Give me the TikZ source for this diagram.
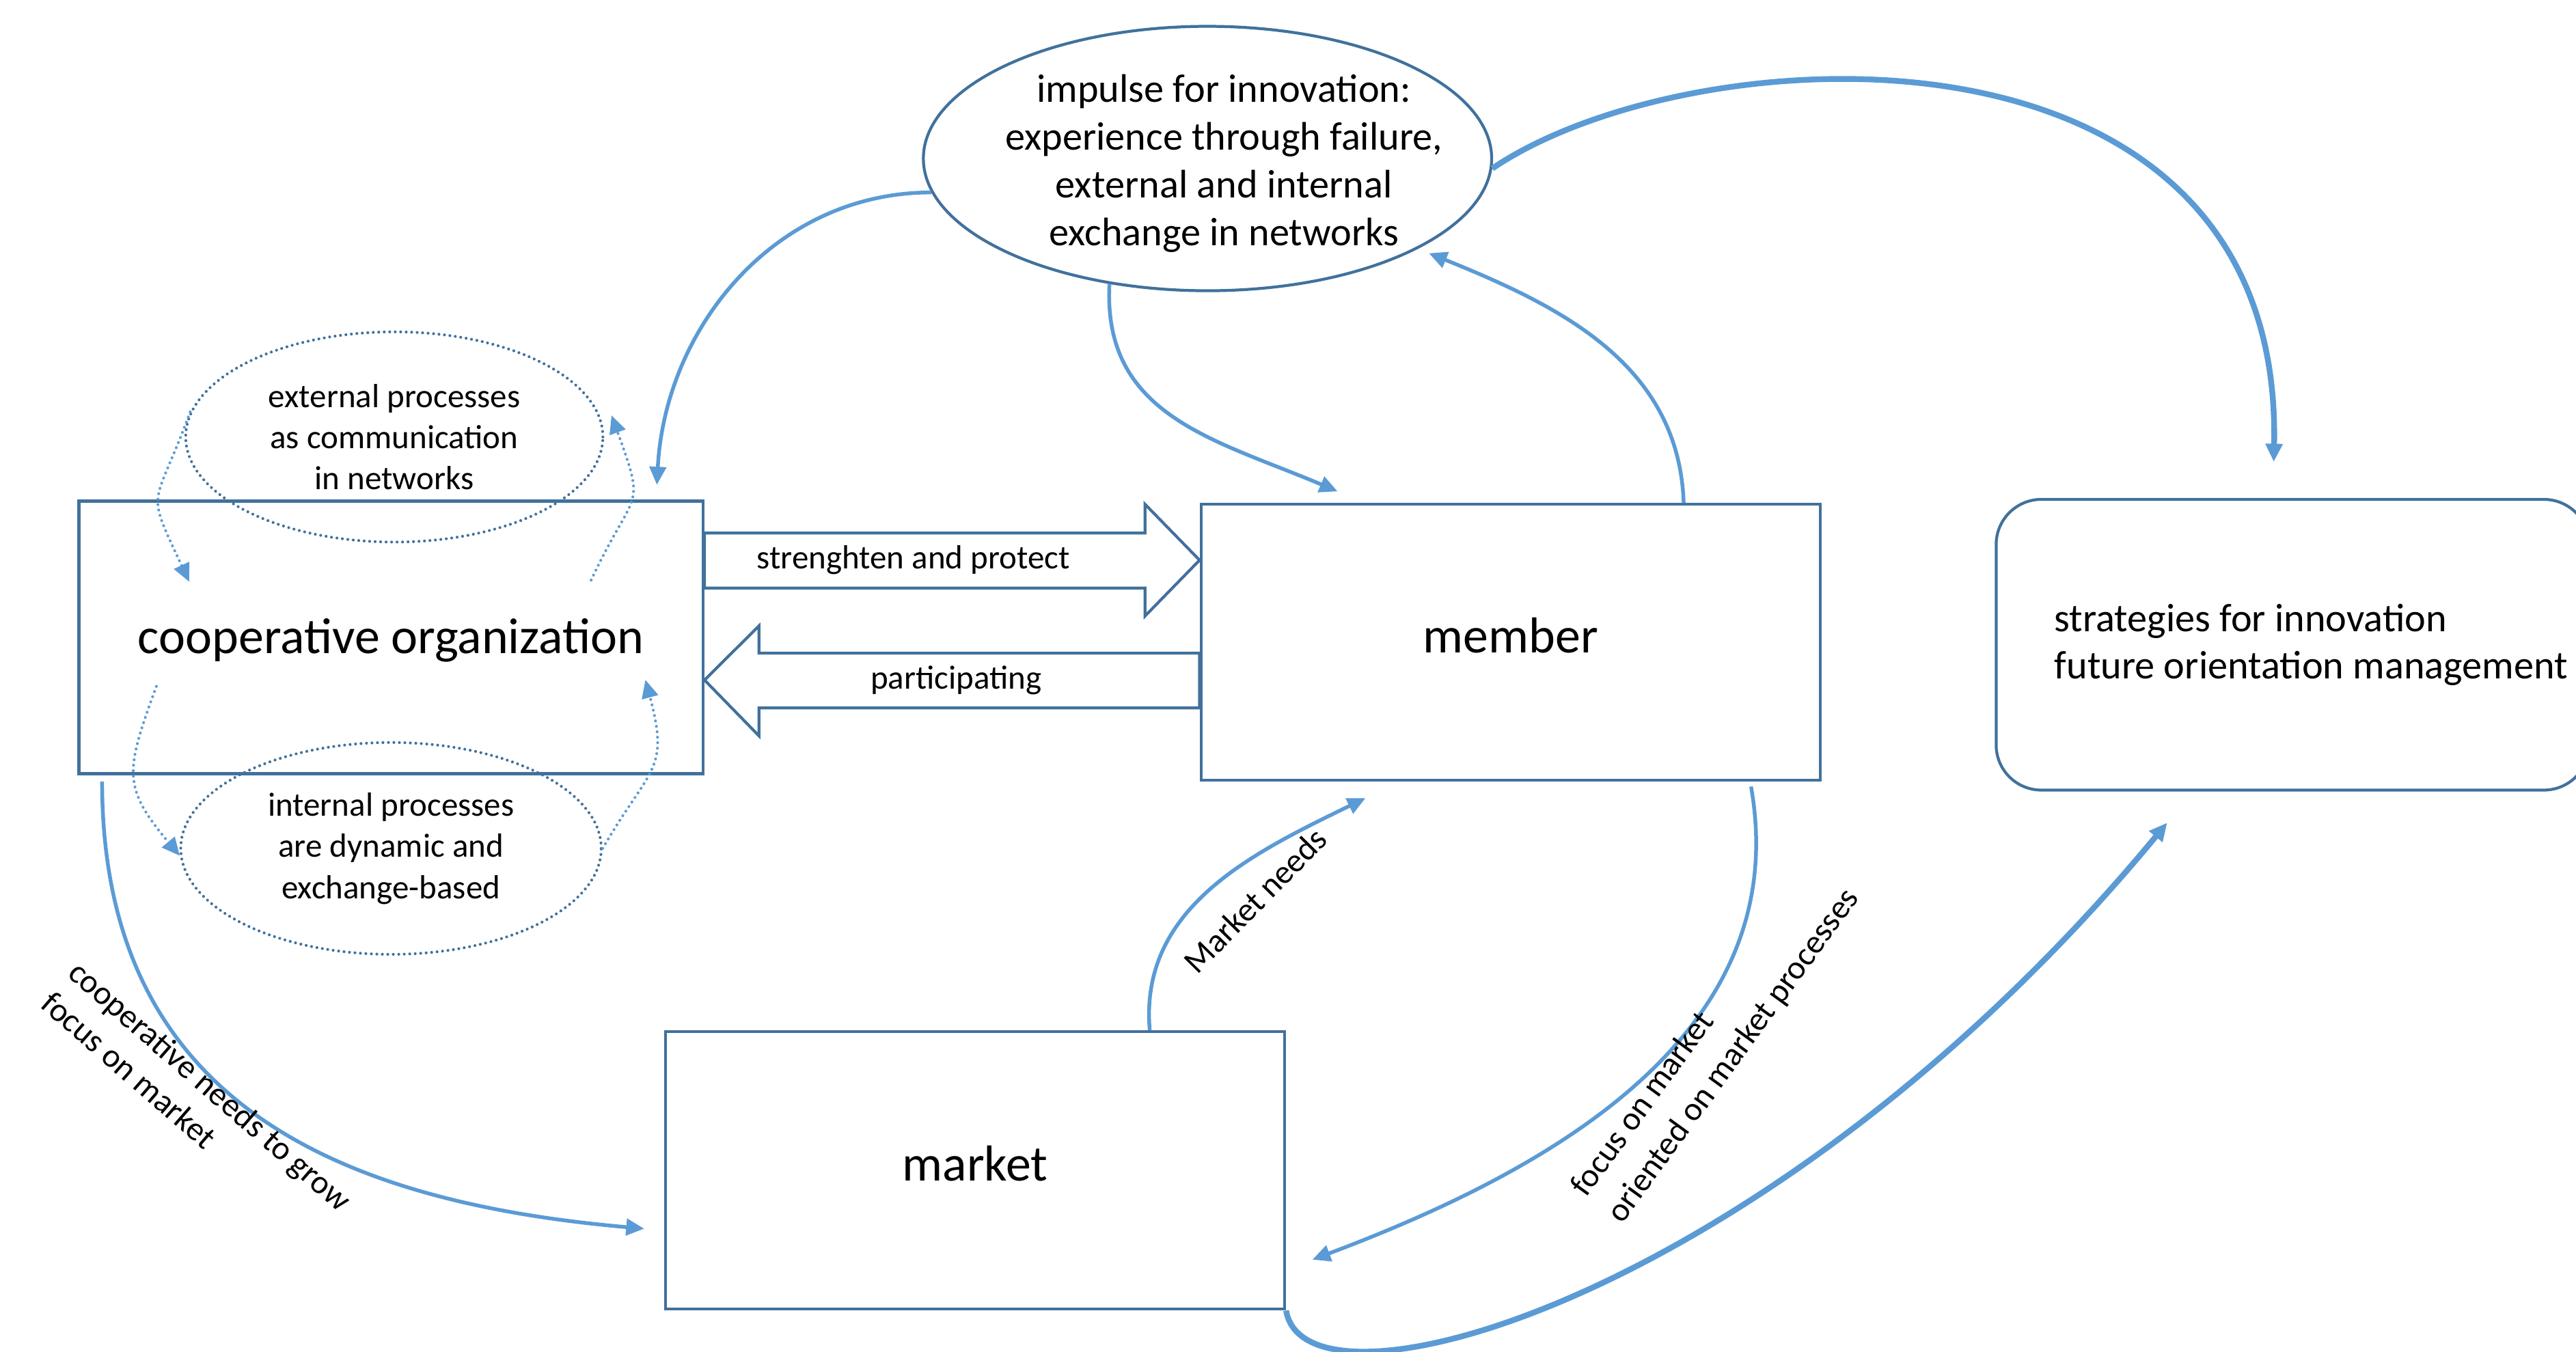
\documentclass[tikz,border=0pt]{standalone}
\usepackage{fontspec}
\setmainfont{Carlito}
\usepackage{xcolor}
\usetikzlibrary{calc,arrows.meta,shapes.geometric}

\definecolor{boxblue}{RGB}{65,113,156}
\definecolor{flowblue}{RGB}{91,155,213}

\begin{document}
\begin{tikzpicture}
    [%%%%%%%%%%%%%%%%%%%%%%%%%%%%%%
        x=0.02cm, y=-0.02cm,
        box/.style={draw=boxblue, line width=1pt, inner sep=0pt},
        oval/.style={ellipse, draw=boxblue, line width=1pt, inner sep=0pt},
        dotoval/.style={oval, line width=1pt, line cap=round, dash pattern=on 0pt off 1.9pt},
        bigfont/.style={font=\fontsize{17.5}{21}\selectfont},
        midfont/.style={font=\fontsize{13.8}{16.5}\selectfont},
        smallfont/.style={font=\fontsize{11.6}{14.3}\selectfont},
        flow/.style={draw=flowblue, line width=1.3pt, -{Triangle[length=0.22cm,width=0.2cm]}},
        bigflow/.style={flow, line width=2pt},
        dotflow/.style={flow, line width=1pt, line cap=round, dash pattern=on 0pt off 1.9pt},
    ]%%%%%%%%%%%%%%%%%%%%%%%%%%%%%%

\useasboundingbox (0,0) rectangle (1568,823);
\clip (0,0) rectangle (1568,823);

%\draw[help lines] (0,0) grid (1568,823);

\foreach \nm/\x/\y/\w/\h/\d/\txt in {coop/238/388/7.6/3.32/0.06/cooperative organization,
	member/919.5/391/7.54/3.36/0.2/member, market/593.5/712.5/7.54/3.38/0.2/market}{
	\node[box, bigfont, text height=0.45cm, text depth=\d cm,
		minimum width=\w cm, minimum height=\h cm] (\nm) at (\x,\y) {\txt};
}

\node[box, rounded corners=0.55cm, minimum width=7.22cm, minimum height=3.54cm] (strat) at (1395.5,392.5) {};
\node[midfont, anchor=west, align=left, inner sep=0pt] (strattext) at ([shift={(36,0)}]strat.west)
	{strategies for innovation\\future orientation management};

\node[oval, minimum width=6.92cm, minimum height=3.22cm] (impulse) at (735,96.5) {};
\node[midfont, align=center] (impulsetext) at ([shift={(10,3)}]impulse)
	{impulse for innovation:\\experience through failure,\\external and internal\\exchange in networks};

\node[dotoval, smallfont, align=center, minimum width=5.08cm, minimum height=2.56cm] (extproc) at (240,266)
	{external processes\\as communication\\in networks};
\node[dotoval, smallfont, align=center, minimum width=5.12cm, minimum height=2.58cm] (intproc) at (238,516.5)
	{internal processes\\are dynamic and\\exchange-based};

% block arrows between cooperative and member
\draw[box] (coop.east |- 0,324.5) -- (697,324.5) -- (697,307) -- (member.west |- 0,341)
	-- (697,375) -- (697,358) -- (coop.east |- 0,358) -- cycle;
\draw[box] (member.west |- 0,397.6) -- (462,397.6) -- (462,381) -- (coop.east |- 0,414)
	-- (462,448) -- (462,431) -- (member.west |- 0,431) -- cycle;
\node[smallfont] (protect) at (556,341) {strenghten and protect};
\node[smallfont] (particip) at (582,414) {participating};

% dotted loops
\draw[dotflow] (extproc.173) to[out=250,in=115,looseness=1.6] ([shift={(68,50)}]coop.north west);
\draw[dotflow] ([shift={(-69,49)}]coop.north east) to[out=65,in=-70,looseness=1.6] ([shift={(7,0)}]extproc.6);
\draw[dotflow] ([shift={(48,-54)}]coop.south west) to[out=250,in=130,looseness=1.35] (intproc.182);
\draw[dotflow] (intproc.0) to[out=60,in=-75,looseness=1.4] ([shift={(-36,-58)}]coop.south east);

% flows
\draw[flow] (impulse.187) to[out=180,in=87] ([shift={(-29,-9)}]coop.north east);
\draw[flow] (impulse.232) to[out=-93,in=157,looseness=1.1] ([shift={(84,-7)}]member.north west);
\draw[flow] ([shift={(-84,0)}]member.north east) to[out=92,in=-22] ([shift={(6,3)}]impulse.-23);
\draw[bigflow] (impulse.-2) .. controls (1030,20) and (1390,0) .. ([shift={(-11.5,-22)}]strat.north);
\draw[flow] ([shift={(15,4)}]coop.south west) to[out=-90,in=175,looseness=1.15] ([shift={(-12,35.5)}]market.west);
\draw[flow] ([shift={(-83,0)}]market.north east) to[out=95,in=206] ([shift={(101,10)}]member.south west);
\draw[flow] ([shift={(-43,3)}]member.south east) to[out=-80,in=20.6] ([shift={(16,-31)}]market.south east);
\draw[bigflow] (market.south east) .. controls (795,870) and (1080,790) .. ([shift={(105,19)}]strat.south west);

\node[smallfont, rotate=45.5] (needs) at (764,548) {Market needs};
\node[smallfont, font=\fontsize{11.6}{15.5}\selectfont, rotate=54, anchor=west, align=left, inner sep=0pt]
	(focus) at (972,734.5) {focus on market\\oriented on market processes};
\node[smallfont, rotate=-41, anchor=west, align=left, inner sep=0pt] (grow) at (36.5,598)
	{cooperative needs to grow\\focus on market};

\end{tikzpicture}
\end{document}
